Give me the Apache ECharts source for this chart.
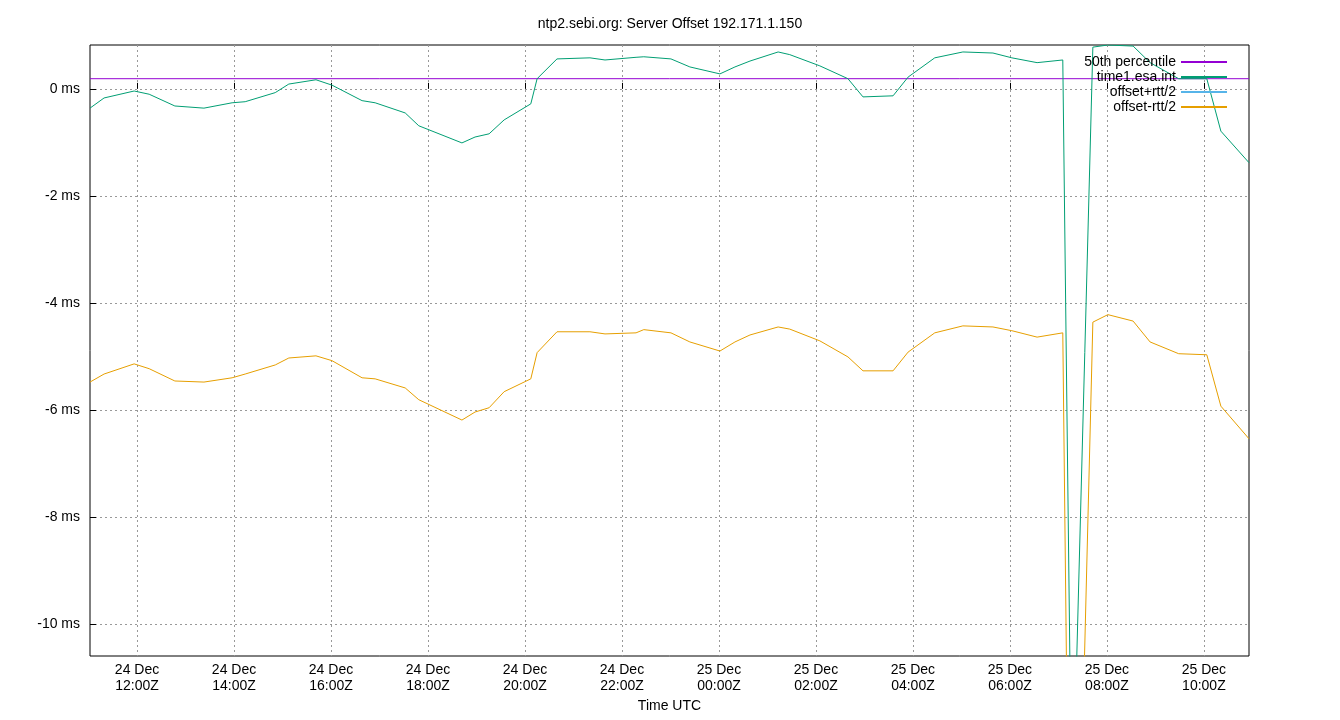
<!DOCTYPE html>
<html><head><meta charset="utf-8">
<script src="https://cdn.jsdelivr.net/npm/echarts@6/dist/echarts.min.js"></script>
<style>html,body{margin:0;padding:0;background:#fff}#c{width:1340px;height:720px}</style>
</head><body><div id="c"></div>
<script>
// hours since 24 Dec 00:00Z
var times = [11.03,11.32,11.94,12.25,12.78,13.38,13.96,14.23,14.85,15.13,15.69,16.02,16.64,16.91,17.53,17.81,18.70,18.97,19.26,19.57,20.12,20.25,20.66,21.34,21.65,22.29,22.45,23.01,23.40,24.02,24.33,24.64,25.22,25.46,26.08,26.66,26.97,27.59,27.90,28.45,29.03,29.65,30.04,30.56,31.09,31.28,31.71,32.02,32.54,32.89,33.48,34.06,34.35,34.93];
var offsetVals = [-0.36,-0.17,-0.04,-0.10,-0.32,-0.36,-0.26,-0.24,-0.07,0.09,0.17,0.07,-0.22,-0.26,-0.45,-0.69,-1.01,-0.90,-0.84,-0.58,-0.28,0.19,0.56,0.58,0.54,0.59,0.60,0.56,0.41,0.28,0.41,0.52,0.69,0.64,0.43,0.19,-0.15,-0.13,0.22,0.58,0.69,0.67,0.58,0.49,0.54,-14,0.78,0.82,0.80,0.49,0.19,0.19,-0.79,-1.38];
var lowerVals = [-5.48,-5.33,-5.14,-5.23,-5.46,-5.48,-5.40,-5.33,-5.16,-5.03,-4.99,-5.08,-5.40,-5.42,-5.59,-5.81,-6.19,-6.04,-5.96,-5.66,-5.42,-4.93,-4.54,-4.54,-4.58,-4.56,-4.50,-4.56,-4.73,-4.90,-4.73,-4.60,-4.45,-4.49,-4.71,-5.01,-5.27,-5.27,-4.92,-4.56,-4.43,-4.45,-4.52,-4.64,-4.56,-20,-4.36,-4.22,-4.34,-4.73,-4.95,-4.97,-5.93,-6.54];
var upperVals = []; // above visible range
var percentile50 = 0.19;
var xTicks = [12,14,16,18,20,22,24,26,28,30,32,34];
var xTickLabels = ['24 Dec\n12:00Z','24 Dec\n14:00Z','24 Dec\n16:00Z','24 Dec\n18:00Z','24 Dec\n20:00Z','24 Dec\n22:00Z','25 Dec\n00:00Z','25 Dec\n02:00Z','25 Dec\n04:00Z','25 Dec\n06:00Z','25 Dec\n08:00Z','25 Dec\n10:00Z'];
var yTicks = [0,-2,-4,-6,-8,-10];
var xMin = 11.03, xMax = 34.93, yMin = -10.6, yMax = 0.82;

function pairs(v){return times.map(function(t,i){return [t,v[i]];});}
var FONT = 'Liberation Sans, Arial, sans-serif';
var chart = echarts.init(document.getElementById('c'));
chart.setOption({
  animation:false,
  title:{text:'ntp2.sebi.org: Server Offset 192.171.1.150',left:'center',top:12,textStyle:{fontFamily:FONT,fontSize:14,fontWeight:'normal',color:'#000'}},
  grid:{left:90,right:91,top:45,bottom:64,show:true,borderColor:'#000',borderWidth:1},
  legend:{orient:'vertical',right:108,top:50,align:'right',itemGap:1,itemWidth:46,itemHeight:2,icon:'rect',
    textStyle:{fontFamily:FONT,fontSize:14,color:'#000'},
    data:['50th percentile','time1.esa.int','offset+rtt/2','offset-rtt/2']},
  xAxis:{type:'value',min:xMin,max:xMax,name:'Time UTC',nameLocation:'middle',nameGap:43,
    nameTextStyle:{fontFamily:FONT,fontSize:14,color:'#000'},
    axisLine:{show:false},
    axisTick:{show:true,inside:true,length:6,lineStyle:{color:'#000'},customValues:xTicks},
    axisLabel:{fontFamily:FONT,fontSize:14,color:'#000',margin:6,lineHeight:16,customValues:xTicks,
      formatter:function(v){var i=xTicks.indexOf(Math.round(v));return i>=0?xTickLabels[i]:'';}},
    splitLine:{show:true,lineStyle:{color:'#999',type:[2,3],width:1}}},
  yAxis:{type:'value',min:yMin,max:yMax,
    axisLine:{show:false},
    axisTick:{show:true,inside:true,length:6,lineStyle:{color:'#000'},customValues:yTicks},
    axisLabel:{fontFamily:FONT,fontSize:14,color:'#000',margin:10,customValues:yTicks,formatter:function(v){return Math.round(v)+' ms';}},
    splitLine:{show:true,lineStyle:{color:'#999',type:[2,3],width:1}}},
  series:[
    {name:'50th percentile',type:'line',symbol:'none',color:'#9400d3',lineStyle:{width:1},data:[[xMin,percentile50],[xMax,percentile50]]},
    {name:'time1.esa.int',type:'line',symbol:'none',color:'#009e73',lineStyle:{width:1},data:pairs(offsetVals)},
    {name:'offset+rtt/2',type:'line',symbol:'none',color:'#56b4e9',lineStyle:{width:1},data:upperVals},
    {name:'offset-rtt/2',type:'line',symbol:'none',color:'#e69f00',lineStyle:{width:1},data:pairs(lowerVals)}
  ]
});
</script></body></html>
